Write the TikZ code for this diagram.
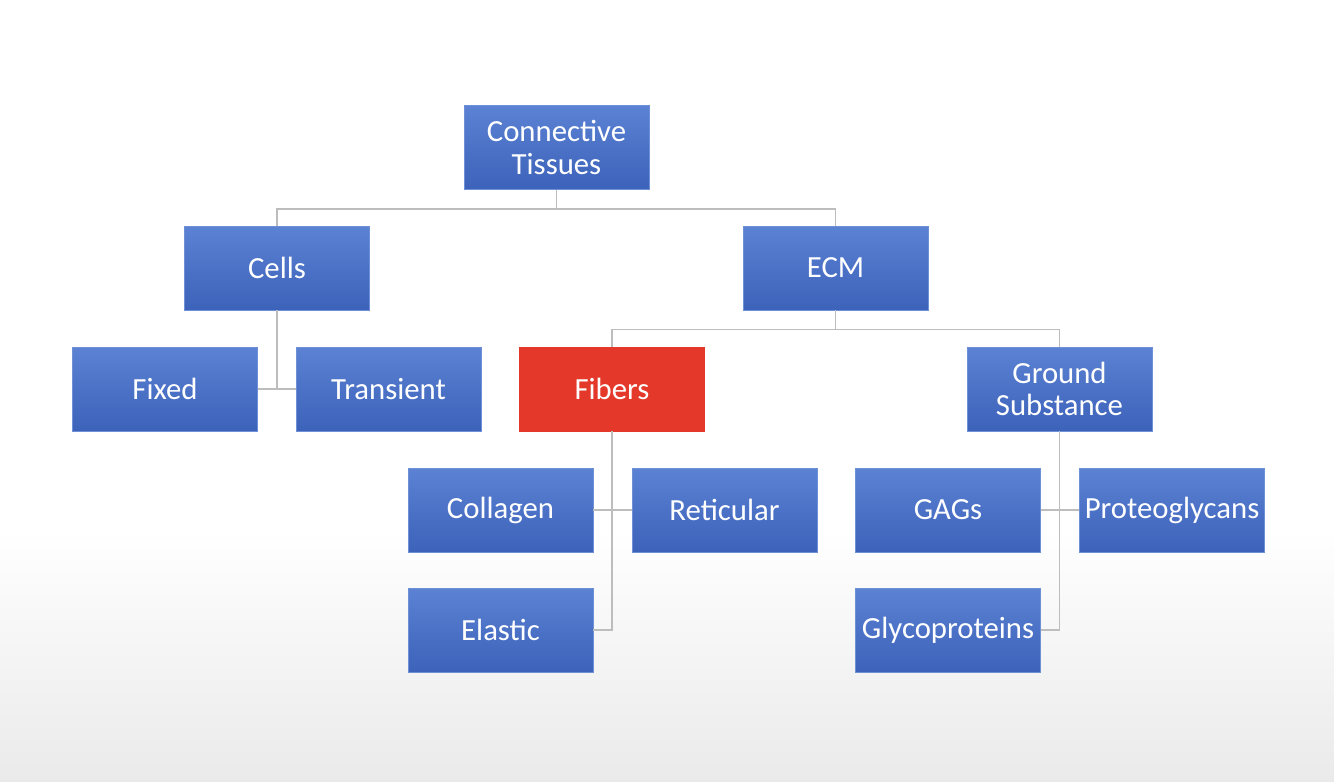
\documentclass[tikz,border=0pt]{standalone}
\usepackage{fontspec}
\usepackage{tikz}
\usepackage{xcolor}
\usetikzlibrary{calc}
\newfontfamily\boxfont{Carlito}
\definecolor{boxtop}{HTML}{5B82D3}
\definecolor{boxbot}{HTML}{3C62BA}
\definecolor{boxedge}{HTML}{6E90D6}
\definecolor{hilite}{HTML}{E4382A}
\definecolor{linkgray}{HTML}{BDBDBD}
\definecolor{floorgray}{HTML}{EAEAEA}

\begin{document}
\begin{tikzpicture}[x=0.02cm,y=-0.02cm,
  box/.style={rectangle,draw=boxedge,line width=0.5pt,top color=boxtop,bottom color=boxbot,
    minimum width=3.7cm,minimum height=1.68cm,inner sep=0pt,align=center,text=white,
    font=\boxfont\fontsize{17.5}{18.5}\selectfont},
  redbox/.style={box,draw=hilite,top color=hilite,bottom color=hilite},
  link/.style={draw=linkgray,line width=0.9pt}]
\useasboundingbox (0,0) rectangle (1334,781);
% background
\fill[white] (0,0) rectangle (1334,781);
\shade[top color=white,bottom color=floorgray] (0,530) rectangle (1334,781);
% boxes
\node[box] (ct) at (556.5,147.5) {Connective\\Tissues};
\node[box] (cells) at (277,268) {Cells};
\node[box] (ecm) at (835.5,268) {ECM};
\node[box] (fixed) at (165,389) {Fixed};
\node[box] (transient) at (388.5,389) {Transient};
\node[redbox] (fibers) at (612,389) {Fibers};
\node[box] (ground) at (1059.5,389) {Ground\\Substance};
\node[box] (collagen) at (500.5,510) {Collagen};
\node[box] (reticular) at (724.5,510) {Reticular};
\node[box] (elastic) at (500.5,630) {Elastic};
\node[box] (gags) at (948,510) {GAGs};
\node[box] (proteo) at (1172,510) {Proteoglycans};
\node[box] (glyco) at (948,630) {Glycoproteins};
% connectors
\draw[link] (ct.south) -- ++(0,19) coordinate (ctj);
\draw[link] (cells.north) |- (ctj) -| (ecm.north);
\draw[link] (ecm.south) -- ++(0,19) coordinate (ecmj);
\draw[link] (fibers.north) |- (ecmj) -| (ground.north);
\draw[link] (cells.south) -- (cells.south |- fixed.east);
\draw[link] (fixed.east) -- (transient.west);
\draw[link] (fibers.south) |- (elastic.east);
\draw[link] (collagen.east) -- (reticular.west);
\draw[link] (ground.south) |- (glyco.east);
\draw[link] (gags.east) -- (proteo.west);
\end{tikzpicture}
\end{document}
